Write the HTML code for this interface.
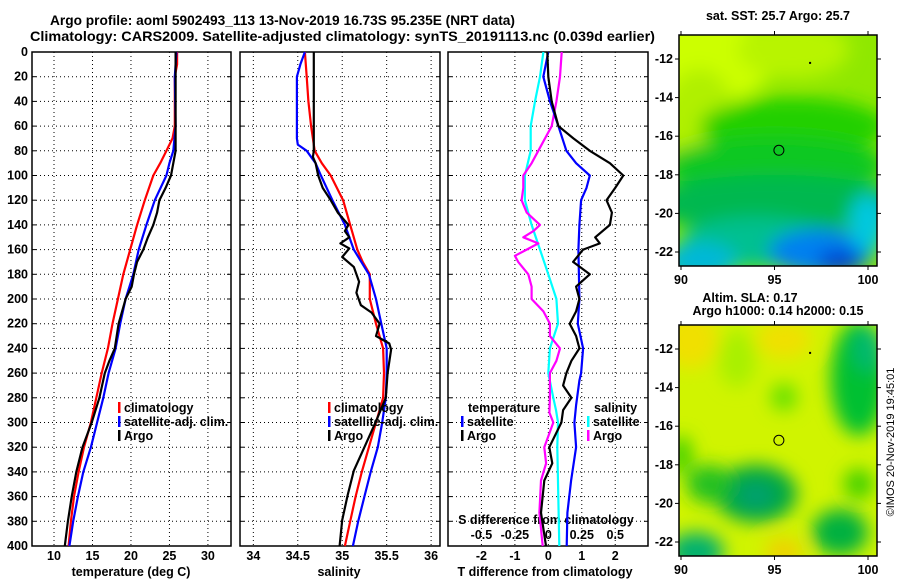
<!DOCTYPE html>
<html><head><meta charset="utf-8"><style>
html,body{margin:0;padding:0;background:#fff}
svg{display:block;font-family:"Liberation Sans",sans-serif}
.b{font-weight:bold;font-size:12.5px}
</style></head><body>
<svg id="c" width="900" height="580" viewBox="0 0 900 580">
<defs>
<filter id="bl" x="-20%" y="-20%" width="140%" height="140%"><feGaussianBlur stdDeviation="9"/></filter>
<clipPath id="cm1"><rect x="679" y="35" width="198" height="231"/></clipPath>
<clipPath id="cm2"><rect x="679" y="325" width="198" height="231"/></clipPath>
</defs>
<text x="50" y="25" textLength="465" lengthAdjust="spacingAndGlyphs" font-size="14" font-weight="bold">Argo profile: aoml 5902493_113 13-Nov-2019 16.73S 95.235E (NRT data)</text>
<text x="30" y="41" textLength="625" lengthAdjust="spacingAndGlyphs" font-size="14" font-weight="bold">Climatology: CARS2009. Satellite-adjusted climatology: synTS_20191113.nc (0.039d earlier)</text>
<g id="g"></g>
</svg>
<script>
// ---------- data ----------
const depthTicks=[0,20,40,60,80,100,120,140,160,180,200,220,240,260,280,300,320,340,360,380,400];
const tTicks=[10,15,20,25,30];
const sTicks=[34,34.5,35,35.5,36];
const dTTicks=[-2,-1,0,1,2];
const dTTickLabels=["-2","-1","0","1","2"];
const dSTicks=[-0.5,-0.25,0,0.25,0.5];
const dSTickLabels=["-0.5","-0.25","0","0.25","0.5"];

const tClimDepth=[0,10,20,40,60,70,80,90,100,120,140,160,180,200,220,240,260,280,300,320,340,360,380,400];
const tClimVal=[26.0,26.0,25.7,25.7,25.7,25.4,24.6,23.8,22.9,21.8,20.8,19.9,19.0,18.3,17.6,17.0,16.2,15.5,14.8,13.9,13.2,12.6,12.2,11.9];
const tSatDepth=[0,20,60,80,90,100,120,140,160,180,200,220,240,260,280,300,320,340,360,380,400];
const tSatVal=[25.9,25.7,25.8,25.5,25.0,24.6,23.1,22.0,21.0,20.3,19.3,18.6,18.0,17.1,16.4,15.6,14.8,13.8,13.1,12.5,12.0];
const tArgoDepth=[0,70,80,90,100,110,120,130,140,150,160,170,180,190,200,220,240,250,260,280,300,320,340,360,380,400];
const tArgoVal=[25.8,25.8,25.8,25.5,25.2,24.5,23.7,23.4,22.9,22.2,21.6,20.8,20.4,20.1,19.3,18.4,17.9,17.2,16.6,15.9,14.9,13.7,12.9,12.3,11.8,11.4];

const sClimDepth=[0,20,40,60,80,90,100,120,140,160,170,180,200,220,240,260,280,300,320,340,360,380,400];
const sClimVal=[34.58,34.60,34.62,34.65,34.69,34.77,34.87,35.01,35.09,35.17,35.23,35.31,35.31,35.38,35.46,35.47,35.46,35.38,35.30,35.22,35.15,35.09,35.03];
const sSatDepth=[0,10,20,70,75,80,90,100,120,140,160,180,200,220,240,260,280,300,320,340,360,380,400];
const sSatVal=[34.58,34.53,34.49,34.49,34.50,34.60,34.70,34.76,34.89,35.03,35.13,35.30,35.38,35.44,35.50,35.50,35.49,35.45,35.40,35.32,35.25,35.18,35.12];
const sArgoDepth=[0,80,85,90,100,110,120,130,140,145,150,155,159,166,174,186,195,205,211,220,230,236,241,260,280,299,320,339,359,379,400];
const sArgoVal=[34.68,34.68,34.67,34.70,34.73,34.78,34.87,34.95,35.07,35.03,35.08,34.98,35.08,35.00,35.13,35.19,35.16,35.21,35.33,35.42,35.38,35.53,35.55,35.51,35.49,35.38,35.25,35.13,35.06,35.00,34.97];

const dTSatDepth=[0,20,40,60,80,90,100,110,120,140,160,200,220,240,260,266,286,300,320,347,373,400];
const dTSatVal=[0.0,-0.15,0.05,0.3,0.54,0.83,1.24,1.14,0.98,0.93,0.9,0.93,0.88,1.04,0.98,0.93,0.83,0.78,0.83,0.68,0.57,0.55];
const dTArgoDepth=[0,20,40,60,70,80,90,100,110,120,130,140,150,155,160,170,180,190,200,210,220,230,240,250,260,270,280,290,300,320,333,347,373,400];
const dTArgoVal=[-0.03,0.0,0.1,0.3,0.75,1.24,1.84,2.24,2.0,1.74,1.9,1.84,1.4,1.54,1.04,0.74,1.24,0.83,0.93,0.83,0.64,0.83,0.93,0.69,0.54,0.44,0.69,0.44,0.39,0.03,0.12,-0.12,-0.22,-0.07];
const dSSatDepth=[0,20,40,60,80,100,120,140,160,180,200,220,240,260,280,290,300,320,400];
const dSSatVal=[-0.037,-0.062,-0.1,-0.132,-0.132,-0.175,-0.175,-0.125,-0.062,0.0,0.06,0.072,0.012,0.0,0.037,0.057,0.072,0.067,0.082];
const dSArgoDepth=[0,20,40,60,80,90,100,110,120,130,140,145,150,155,160,165,170,180,190,200,210,220,230,240,250,260,280,292,300,320,333,347,373,400];
const dSArgoVal=[0.1,0.087,0.06,0.025,-0.075,-0.125,-0.187,-0.187,-0.2,-0.162,-0.062,-0.112,-0.187,-0.075,-0.162,-0.25,-0.225,-0.15,-0.125,-0.125,-0.037,0.012,0.012,0.087,0.06,0.012,0.012,0.008,0.037,-0.03,-0.017,-0.055,-0.067,-0.042];

const mapXTicks=[90,95,100];
const mapYTicks=[-12,-14,-16,-18,-20,-22];
const argoLon=95.235, argoLat=-16.73;

// ---------- drawing ----------
const NS="http://www.w3.org/2000/svg";
const G=document.getElementById('g');
function mk(tag,attrs,parent){const e=document.createElementNS(NS,tag);for(const k in attrs)e.setAttribute(k,attrs[k]);(parent||G).appendChild(e);return e;}
const yTop=52,yBot=546;
function yD(d){return yTop+(d/400)*(yBot-yTop);}
function scaleX(x0,x1,v0,v1){return v=>x0+(v-v0)/(v1-v0)*(x1-x0);}

const panels=[
 {name:'temperature',x0:32,x1:231,v0:7.14,v1:33.0,ticks:tTicks,labels:tTicks.map(String)},
 {name:'salinity',x0:240,x1:440,v0:33.85,v1:36.1,ticks:sTicks,labels:sTicks.map(String)},
 {name:'difference',x0:448,x1:648,v0:-3.0,v1:2.98,ticks:dTTicks,labels:dTTickLabels}
];
panels.forEach((p,i)=>{
  p.sx=scaleX(p.x0,p.x1,p.v0,p.v1);
  const gr=mk('g',{});
  
  
  depthTicks.forEach(d=>{if(d>0&&d<400){const l=mk('line',{x1:p.x0,x2:p.x1,y1:yD(d),y2:yD(d),stroke:'#000','stroke-width':1,'stroke-dasharray':'1,3'},gr);
    }
    mk('line',{x1:p.x0,x2:p.x0+4,y1:yD(d),y2:yD(d),stroke:'#000'},gr);
    mk('line',{x1:p.x1-4,x2:p.x1,y1:yD(d),y2:yD(d),stroke:'#000'},gr);
  });
  p.ticks.forEach((v,k)=>{const x=p.sx(v);
    const l=mk('line',{x1:x,x2:x,y1:yTop,y2:yBot,stroke:'#000','stroke-width':1,'stroke-dasharray':'1,3'},gr);
    
    const t=mk('text',{x:x,y:560,'text-anchor':'middle',class:'b'},gr);t.textContent=p.labels[k];
    
  });
  const fr=mk('rect',{x:p.x0,y:yTop,width:p.x1-p.x0,height:yBot-yTop,fill:'none',stroke:'#000','stroke-width':1.5},gr);
  
});
depthTicks.forEach(d=>{const t=mk('text',{x:28,y:yD(d)+4,'text-anchor':'end',class:'b'});t.textContent=String(d);
  });
[[131,'temperature (deg C)','temperature-axis-title'],[339,'salinity','salinity-axis-title'],[545,'T difference from climatology','t-difference-axis-title']].forEach(a=>{
  const t=mk('text',{x:a[0],y:576,'text-anchor':'middle',class:'b'});t.textContent=a[1];
  });
const sDx=scaleX(448,648,-0.75,0.745);
const sdt=mk('text',{x:546,y:524,'text-anchor':'middle',class:'b'});sdt.textContent='S difference from climatology';

dSTicks.forEach((v,k)=>{const t=mk('text',{x:sDx(v),y:539,'text-anchor':'middle',class:'b'});t.textContent=dSTickLabels[k];
  });

function line(depths,vals,sx,color,name){
  const pts=depths.map((d,i)=>sx(vals[i]).toFixed(1)+','+yD(d).toFixed(1)).join(' ');
  const pl=mk('polyline',{points:pts,fill:'none',stroke:color,'stroke-width':2.2,'stroke-linejoin':'round'});
  
  
}
const P=panels;
line(tClimDepth,tClimVal,P[0].sx,'#f00','temperature-climatology-line');
line(tSatDepth,tSatVal,P[0].sx,'#00f','temperature-satellite-line');
line(tArgoDepth,tArgoVal,P[0].sx,'#000','temperature-argo-line');
line(sClimDepth,sClimVal,P[1].sx,'#f00','salinity-climatology-line');
line(sSatDepth,sSatVal,P[1].sx,'#00f','salinity-satellite-line');
line(sArgoDepth,sArgoVal,P[1].sx,'#000','salinity-argo-line');
line(dSSatDepth,dSSatVal,sDx,'#0ff','s-diff-satellite-line');
line(dSArgoDepth,dSArgoVal,sDx,'#f0f','s-diff-argo-line');
line(dTSatDepth,dTSatVal,P[2].sx,'#00f','t-diff-satellite-line');
line(dTArgoDepth,dTArgoVal,P[2].sx,'#000','t-diff-argo-line');

function legend(x,y,color,label,name){
  const r=mk('rect',{x:x,y:y-10,width:2.5,height:11,fill:color});
  
  const t=mk('text',{x:x+6,y:y,class:'b'});t.textContent=label;
  
}
legend(118,412,'#f00','climatology','legend-climatology');
legend(118,426,'#00f','satellite-adj. clim.','legend-satellite-adj');
legend(118,440,'#000','Argo','legend-argo');
legend(328,412,'#f00','climatology','legend-climatology-2');
legend(328,426,'#00f','satellite-adj. clim.','legend-satellite-adj-2');
legend(328,440,'#000','Argo','legend-argo-2');
{const t=mk('text',{x:468,y:412,class:'b'});t.textContent='temperature';}
legend(461,426,'#00f','satellite','legend-t-satellite');
legend(461,440,'#000','Argo','legend-t-argo');
{const t=mk('text',{x:594,y:412,class:'b'});t.textContent='salinity';}
legend(587,426,'#0ff','satellite','legend-s-satellite');
legend(587,440,'#f0f','Argo','legend-s-argo');

// ---------- maps ----------
const mx=v=>681+(v-90)*18.7;
function mapFrame(top,clip,title1,blobs,base,name){
  const g=mk('g',{});
  
  
  const my=v=>top+24+(-12-v)*19.3;
  const cg=mk('g',{'clip-path':'url(#'+clip+')'},g);
  mk('rect',{x:679,y:top,width:198,height:231,fill:base},cg);
  const bg=mk('g',{filter:'url(#bl)'},cg);
  blobs.forEach(b=>mk('ellipse',{cx:mx(b[0]),cy:my(b[1]),rx:b[2]*18.7,ry:b[3]*19.3,fill:b[4]},bg));
  mk('circle',{cx:mx(argoLon),cy:my(argoLat),r:5,fill:'none',stroke:'#000','stroke-width':1},g);
  mk('rect',{x:mx(96.85),y:my(-12.15),width:2,height:2,fill:'#000'},g);
  mk('rect',{x:679,y:top,width:198,height:231,fill:'none',stroke:'#000','stroke-width':1.5},g);
  mapYTicks.forEach(v=>{mk('line',{x1:675,x2:679,y1:my(v),y2:my(v),stroke:'#000'},g);mk('line',{x1:877,x2:881,y1:my(v),y2:my(v),stroke:'#000'},g);
    const t=mk('text',{x:673,y:my(v)+4,'text-anchor':'end',class:'b'},g);t.textContent=String(v);
    });
  mapXTicks.forEach(v=>{mk('line',{x1:mx(v),x2:mx(v),y1:top-4,y2:top,stroke:'#000'},g);mk('line',{x1:mx(v),x2:mx(v),y1:top+231,y2:top+235,stroke:'#000'},g);
    const t=mk('text',{x:mx(v),y:top+249,'text-anchor':'middle',class:'b'},g);t.textContent=String(v);
    });
  title1.forEach(tt=>{const t=mk('text',{x:tt[0],y:tt[1],'text-anchor':'middle',class:'b'},g);t.textContent=tt[2];
    });
}
mapFrame(35,'cm1',[[778,20,'sat. SST: 25.7 Argo: 25.7']],[
 [91,-12,4,2.5,'#ccff00'],[96,-11.5,3,1.5,'#b8f400'],[91,-15.5,2,3,'#b0f000'],
 [96,-15.5,5,1.5,'#20d000'],[95,-17.5,6,1.5,'#10c820'],[95,-19.5,7,1.5,'#00b850'],
 [94,-21.5,4,1.3,'#00c090'],[91,-22.5,2,1,'#00b8d8'],[97.5,-22,2.8,1.2,'#0080f0'],[98.5,-22.5,1.2,0.6,'#0040d0'],[100,-20.5,1,1.5,'#00c8e0']
],'#90e800','sst-map');
mapFrame(325,'cm2',[[750,302,'Altim. SLA: 0.17'],[778,315,'Argo h1000: 0.14 h2000: 0.15']],[
 [90.5,-11.5,1.5,1.5,'#f0e000'],[95.5,-11.5,1.5,1,'#f0e000'],[93,-12.5,1,1.5,'#a8f000'],
 [99.5,-13.5,1.5,3,'#00c030'],[100,-12,0.8,1.2,'#00b870'],[95.5,-14.5,0.7,0.7,'#60e000'],
 [94,-19.5,2.2,1.5,'#00a840'],[94,-19.6,1,0.7,'#00a070'],[91.5,-19,1.2,1,'#20c020'],[90,-17.5,0.6,1,'#40d000'],
 [98.5,-21.5,1.5,1.2,'#00b040'],[99.5,-19,0.8,0.8,'#40d000'],[90.8,-22.5,1.5,1,'#00b070'],[95.5,-22.5,1,0.7,'#f0d000']
],'#d0f400','sla-map');
{const t=mk('text',{x:0,y:0,'font-size':11,'text-anchor':'middle',transform:'translate(894,442) rotate(-90)'});t.textContent='©IMOS 20-Nov-2019 19:45:01';
 }
</script>
</body></html>
